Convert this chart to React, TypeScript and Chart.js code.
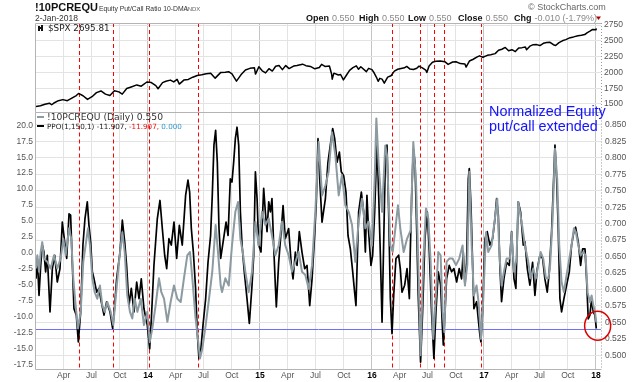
import React, { useEffect, useRef } from "react";
import { Chart, registerables } from "chart.js";
Chart.register(...registerables);

// ---------------- data (x = decimal year) ----------------
const spxDates = [2013.0,2013.04,2013.08,2013.12,2013.14,2013.16,2013.2,2013.24,2013.28,2013.32,2013.36,2013.38,2013.42,2013.46,2013.5,2013.54,2013.58,2013.62,2013.66,2013.7,2013.74,2013.77,2013.81,2013.85,2013.9,2013.94,2013.99,
  2014.03,2014.07,2014.09,2014.13,2014.16,2014.2,2014.23,2014.26,2014.28,2014.32,2014.36,2014.4,2014.44,2014.48,2014.52,2014.56,2014.6,2014.65,2014.69,2014.72,2014.75,2014.79,2014.83,2014.87,2014.91,2014.95,2014.96,2014.99,
  2015.02,2015.05,2015.08,2015.11,2015.14,2015.17,2015.2,2015.23,2015.26,2015.3,2015.33,2015.38,2015.41,2015.45,2015.49,2015.53,2015.55,2015.58,2015.62,2015.64,2015.645,2015.66,2015.7,2015.72,2015.745,2015.77,2015.8,2015.83,2015.86,2015.88,2015.9,2015.95,2015.97,
  2016.0,2016.02,2016.04,2016.055,2016.07,2016.09,2016.11,2016.14,2016.17,2016.2,2016.23,2016.26,2016.29,2016.31,2016.34,2016.37,2016.4,2016.42,2016.45,2016.48,2016.49,2016.51,2016.54,2016.57,2016.61,2016.65,2016.68,2016.72,2016.75,2016.79,2016.83,2016.84,2016.87,2016.9,2016.94,2016.96,2016.99,
  2017.03,2017.06,2017.1,2017.13,2017.16,2017.19,2017.22,2017.25,2017.28,2017.31,2017.34,2017.37,2017.38,2017.41,2017.44,2017.47,2017.5,2017.53,2017.56,2017.59,2017.62,2017.64,2017.67,2017.7,2017.73,2017.77,2017.8,2017.84,2017.87,2017.9,2017.92,2017.95,2017.97,2018.0,2018.003];
const spxValues = [1462,1472,1495,1513,1488,1515,1552,1569,1552,1593,1633,1667,1631,1573,1615,1680,1706,1656,1634,1710,1692,1656,1745,1770,1802,1782,1848,
  1839,1790,1742,1838,1859,1878,1849,1890,1815,1878,1889,1924,1951,1962,1977,1988,1909,2000,2003,2011,1977,1862,1961,2039,2064,2075,1973,2090,
  2025,1992,2058,2021,2097,2110,2044,2108,2060,2100,2110,2130,2107,2095,2057,2077,2128,2094,2102,1970,1893,1988,1958,1967,1881,1951,2033,2075,2103,2050,2089,2012,2064,
  2044,1990,1922,1859,1906,1893,1829,1926,1948,2020,2050,2063,2073,2095,2052,2047,2065,2099,2071,2037,2000,2103,2162,2175,2182,2170,2127,2164,2168,2139,2133,2085,2180,2204,2246,2262,2239,
  2270,2280,2297,2350,2367,2395,2344,2359,2329,2388,2392,2402,2357,2415,2439,2440,2425,2460,2474,2476,2438,2426,2472,2500,2519,2550,2562,2580,2587,2599,2627,2656,2680,2674,2696];

const ppoDates = [2013.0,2013.012,2013.027,2013.042,2013.056,2013.071,2013.086,2013.101,2013.125,2013.146,2013.167,2013.19,2013.214,2013.235,2013.256,2013.274,2013.295,2013.309,2013.324,2013.339,2013.36,2013.378,2013.399,2013.419,2013.437,2013.458,2013.473,2013.488,2013.503,2013.518,2013.542,2013.562,2013.583,2013.607,2013.631,2013.661,2013.684,2013.696,2013.72,2013.75,2013.771,2013.792,2013.809,2013.83,2013.851,2013.875,2013.899,2013.92,2013.94,2013.964,2013.994,
  2014.015,2014.03,2014.053,2014.083,2014.107,2014.128,2014.149,2014.167,2014.187,2014.208,2014.232,2014.256,2014.28,2014.306,2014.336,2014.357,2014.372,2014.387,2014.405,2014.425,2014.44,2014.455,2014.47,2014.491,2014.515,2014.536,2014.559,2014.574,2014.589,2014.604,2014.619,2014.634,2014.649,
  2014.697,2014.715,2014.735,2014.75,2014.765,2014.78,2014.795,2014.81,2014.825,2014.84,2014.86,2014.884,2014.905,2014.929,2014.944,2014.959,2014.974,2014.988,
  2015.009,2015.033,2015.048,2015.063,2015.078,2015.093,2015.107,2015.122,2015.137,2015.146,2015.167,2015.191,2015.206,2015.226,2015.256,2015.28,2015.295,2015.316,2015.331,2015.351,2015.375,2015.399,2015.42,2015.444,2015.465,2015.488,2015.503,2015.518,2015.533,2015.554,2015.584,2015.607,2015.628,2015.649,2015.667,2015.688,2015.709,2015.726,2015.747,2015.768,2015.786,2015.807,2015.828,2015.845,2015.857,2015.881,2015.905,2015.926,2015.941,2015.955,2015.97,2015.991,
  2016.006,2016.024,2016.045,2016.06,2016.075,2016.09,2016.104,2016.119,2016.134,2016.149,2016.164,2016.179,2016.194,2016.214,2016.238,2016.253,2016.268,2016.292,2016.313,2016.334,2016.342,2016.354,2016.369,2016.384,2016.399,2016.413,2016.434,2016.452,2016.473,2016.494,2016.512,2016.532,2016.553,2016.571,2016.592,2016.613,2016.628,2016.637,2016.652,2016.666,2016.69,2016.711,2016.732,2016.756,2016.779,2016.8,2016.815,2016.83,2016.845,2016.86,2016.869,2016.884,2016.899,2016.91,2016.934,2016.949,2016.964,2016.973,2016.988,
  2017.009,2017.029,2017.053,2017.077,2017.098,2017.113,2017.128,2017.143,2017.157,2017.178,2017.202,2017.226,2017.247,2017.268,2017.285,2017.306,2017.327,2017.351,2017.366,2017.387,2017.41,2017.434,2017.455,2017.476,2017.5,2017.524,2017.544,2017.565,2017.583,2017.604,2017.619,2017.634,2017.649,2017.663,2017.678,2017.693,2017.714,2017.738,2017.762,2017.782,2017.803,2017.818,2017.842,2017.863,2017.881,2017.902,2017.916,2017.931,2017.946,2017.961,2017.976,2017.991,2018.003];
const ppoValues = [-4.1,-0.9,-6.7,-2.0,1.2,0.1,-3.0,-0.4,-9.3,-2.5,-0.4,-4.6,-2.5,4.8,1.7,-0.9,6.1,5.9,-1.5,-8.8,-9.8,-14.0,-9.3,1.2,5.3,8.0,4.3,1.7,-3.0,-4.1,-6.2,-5.6,-7.7,-9.8,-7.7,-9.3,-11.9,-9.8,-4.1,0.1,5.1,1.7,-2.0,-8.3,-5.6,-9.3,-4.6,-7.2,-4.1,-8.8,-11.4,
  -15.1,-10.4,-2.0,5.3,8.2,3.8,-0.4,-2.5,2.2,1.2,4.8,-0.9,4.3,1.2,9.0,11.4,9.5,3.8,0.1,-5.6,-12.5,-16.6,-15.6,-11.4,-7.2,-1.5,2.7,9.0,16.9,19.2,14.2,3.8,-0.9,
  4.8,2.7,11.6,11.1,14.2,17.9,19.7,16.9,6.4,1.2,-3.0,-7.2,-11.1,-5.1,-0.4,12.7,8.5,1.2,
  0.1,10.1,6.4,3.3,8.0,6.4,8.5,1.2,-5.1,-8.5,-1.5,3.8,7.4,2.2,3.8,-2.0,-4.1,0.1,-2.0,3.3,0.1,-2.5,-2.0,-8.3,-4.1,2.7,8.0,17.9,11.6,4.8,8.5,14.2,16.9,19.5,17.9,14.2,15.8,12.7,12.1,9.5,2.7,0.6,-3.0,-6.2,-8.3,6.4,9.5,6.4,0.1,9.0,3.3,-2.0,
  -0.4,6.4,17.4,9.0,-0.4,-10.9,1.2,14.2,16.9,6.4,-7.2,-12.7,-6.7,-0.9,-0.4,-2.5,-6.2,-5.1,-2.5,-7.2,0.1,8.5,16.3,14.2,3.8,-6.7,-17.2,-9.3,2.2,6.4,0.1,-9.3,-16.6,-9.3,-3.0,-5.1,-11.4,-14.5,-9.3,-4.1,-2.0,-3.0,-2.5,-4.6,-2.5,-4.1,0.1,-5.1,-1.5,11.6,13.2,7.4,-2.0,-8.8,-7.7,-10.4,-13.0,-14.0,-8.8,
  2.2,3.3,1.2,2.2,5.3,8.5,5.9,-2.5,-7.7,-4.1,-1.5,-2.0,3.3,-4.1,-5.6,8.0,6.4,1.2,1.7,-2.5,-5.1,-1.5,-6.7,-2.5,-0.4,-0.9,-4.1,-6.2,-3.0,3.3,10.1,16.9,11.6,3.8,-7.2,-9.3,-7.2,-5.1,-3.0,1.2,3.3,4.0,1.7,-2.0,0.6,0.6,-4.1,-10.4,-9.8,-7.2,-9.3,-9.8,-11.907];

const pcrDates = [2013.0,2013.012,2013.027,2013.042,2013.056,2013.071,2013.101,2013.131,2013.161,2013.19,2013.22,2013.244,2013.265,2013.295,2013.315,2013.333,2013.354,2013.375,2013.399,2013.422,2013.443,2013.464,2013.482,2013.503,2013.524,2013.547,2013.571,2013.592,2013.613,2013.637,2013.667,2013.69,2013.711,2013.741,2013.771,2013.792,2013.815,2013.839,2013.86,2013.881,2013.905,2013.935,2013.964,2013.994,
  2014.015,2014.039,2014.068,2014.098,2014.119,2014.143,2014.173,2014.202,2014.232,2014.262,2014.292,2014.321,2014.351,2014.375,2014.396,2014.425,2014.446,2014.464,2014.485,2014.515,2014.545,2014.574,2014.604,2014.625,2014.649,2014.661,2014.691,2014.721,2014.75,2014.78,2014.804,2014.825,2014.846,2014.869,2014.899,2014.929,2014.959,2014.988,
  2015.018,2015.048,2015.078,2015.107,2015.137,2015.167,2015.197,2015.226,2015.256,2015.286,2015.316,2015.346,2015.375,2015.405,2015.435,2015.465,2015.494,2015.524,2015.554,2015.584,2015.613,2015.643,2015.673,2015.703,2015.732,2015.762,2015.792,2015.822,2015.851,2015.881,2015.911,2015.941,2015.97,
  2016.0,2016.024,2016.039,2016.06,2016.09,2016.119,2016.134,2016.164,2016.185,2016.209,2016.232,2016.253,2016.283,2016.313,2016.345,2016.369,2016.393,2016.413,2016.434,2016.458,2016.482,2016.503,2016.524,2016.547,2016.571,2016.592,2016.613,2016.631,2016.646,2016.666,2016.69,2016.72,2016.75,2016.779,2016.809,2016.83,2016.851,2016.869,2016.89,2016.91,2016.934,2016.952,2016.973,2016.994,
  2017.018,2017.038,2017.068,2017.098,2017.119,2017.137,2017.157,2017.178,2017.202,2017.232,2017.247,2017.268,2017.291,2017.306,2017.336,2017.366,2017.396,2017.416,2017.44,2017.464,2017.485,2017.506,2017.529,2017.553,2017.574,2017.589,2017.613,2017.634,2017.654,2017.672,2017.693,2017.714,2017.738,2017.762,2017.782,2017.803,2017.821,2017.842,2017.863,2017.887,2017.907,2017.925,2017.946,2017.961,2017.976,2017.991,2018.003];
const pcrValues = [0.632,0.652,0.627,0.657,0.672,0.647,0.642,0.632,0.652,0.632,0.647,0.677,0.652,0.693,0.677,0.617,0.576,0.541,0.566,0.642,0.667,0.693,0.667,0.617,0.596,0.586,0.606,0.576,0.566,0.581,0.566,0.546,0.586,0.642,0.687,0.657,0.591,0.566,0.556,0.586,0.566,0.586,0.546,0.566,
  0.52,0.541,0.576,0.617,0.596,0.586,0.551,0.581,0.606,0.586,0.581,0.617,0.652,0.657,0.617,0.556,0.525,0.495,0.51,0.546,0.586,0.627,0.698,0.657,0.606,0.596,0.617,0.606,0.667,0.718,0.733,0.677,0.657,0.627,0.596,0.627,0.703,0.667,
  0.718,0.698,0.708,0.682,0.652,0.667,0.703,0.667,0.652,0.627,0.642,0.657,0.627,0.622,0.601,0.637,0.718,0.824,0.743,0.758,0.779,0.839,0.804,0.743,0.774,0.728,0.718,0.698,0.642,0.703,0.738,0.693,0.703,
  0.667,0.768,0.86,0.789,0.718,0.819,0.804,0.667,0.657,0.693,0.728,0.693,0.657,0.677,0.69,0.824,0.768,0.642,0.5,0.642,0.723,0.708,0.642,0.525,0.591,0.657,0.652,0.566,0.535,0.642,0.647,0.647,0.637,0.647,0.667,0.606,0.637,0.779,0.667,0.591,0.606,0.581,0.525,0.586,
  0.687,0.657,0.667,0.708,0.738,0.657,0.606,0.627,0.647,0.647,0.687,0.627,0.647,0.733,0.703,0.667,0.642,0.617,0.632,0.617,0.637,0.657,0.647,0.617,0.617,0.632,0.708,0.814,0.768,0.667,0.611,0.596,0.622,0.647,0.667,0.693,0.687,0.667,0.652,0.657,0.652,0.596,0.581,0.591,0.576,0.566,0.55];

const signalDates = [2013.384, 2013.688, 2014.009, 2014.446, 2016.179, 2016.429, 2016.554, 2016.643, 2016.973];
const ppoThreshold = -12;
const circleAt = { x: 2018.015, y: -11.46 };

const xTickValues = [2013.247,2013.496,2013.748,2014,2014.247,2014.496,2014.748,2015,2015.247,2015.496,2015.748,2016,2016.247,2016.496,2016.748,2017,2017.247,2017.496,2017.748,2018];
const xTickLabels = ["Apr","Jul","Oct","14","Apr","Jul","Oct","15","Apr","Jul","Oct","16","Apr","Jul","Oct","17","Apr","Jul","Oct","18"];
const spxTicks = [1500, 1750, 2000, 2250, 2500, 2750];
const ppoTicks = [-17.5,-15,-12.5,-10,-7.5,-5,-2.5,0,2.5,5,7.5,10,12.5,15,17.5,20];
const pcrTicks = [0.5,0.525,0.55,0.575,0.6,0.625,0.65,0.675,0.7,0.725,0.75,0.775,0.8,0.825,0.85];

// ---------------- styling ----------------
const X_MIN = 2013.0;
const X_MAX = 2018.045;
const SANS = "'Liberation Sans', Arial, sans-serif";
const VSANS = "'DejaVu Sans', Verdana, sans-serif";
const GRAY_LINE = "#8c9aa1";

const isYear = (v: number) => Math.abs(v - Math.round(v)) < 0.001;
const pts = (xs: number[], ys: number[]) => xs.map((x, i) => ({ x, y: ys[i] }));

const vLinesPlugin = {
  id: "vlines",
  beforeDatasetsDraw(chart: any) {
    const { ctx, chartArea: a, scales } = chart;
    ctx.save();
    ctx.strokeStyle = "#ff0000";
    ctx.lineWidth = 1;
    ctx.setLineDash([4, 3]);
    for (const d of signalDates) {
      const px = Math.round(scales.x.getPixelForValue(d)) + 0.5;
      ctx.beginPath();
      ctx.moveTo(px, a.top);
      ctx.lineTo(px, a.bottom);
      ctx.stroke();
    }
    ctx.restore();
  },
};

const framePlugin = {
  id: "frame",
  afterDraw(chart: any) {
    const { ctx, chartArea: a } = chart;
    ctx.save();
    ctx.strokeStyle = "#b4b4b4";
    ctx.lineWidth = 1;
    ctx.beginPath();
    ctx.moveTo(Math.round(a.right) + 0.5, Math.round(a.top) + 0.5);
    ctx.lineTo(Math.round(a.left) - 0.5, Math.round(a.top) + 0.5);
    ctx.lineTo(Math.round(a.left) - 0.5, Math.round(a.bottom) + 0.5);
    ctx.lineTo(Math.round(a.right) + 0.5, Math.round(a.bottom) + 0.5);
    ctx.stroke();
    ctx.setLineDash([1, 2]);
    ctx.strokeStyle = "#999";
    ctx.beginPath();
    ctx.moveTo(Math.round(a.right) + 0.5, a.top);
    ctx.lineTo(Math.round(a.right) + 0.5, a.bottom);
    ctx.stroke();
    ctx.restore();
  },
};

function runs(ctx: CanvasRenderingContext2D, x: number, y: number, parts: [string, string, string][]) {
  let cx = x;
  for (const [t, font, color] of parts) {
    ctx.font = font;
    ctx.fillStyle = color;
    ctx.fillText(t, cx, y);
    cx += ctx.measureText(t).width;
  }
}

const headerPlugin = {
  id: "header",
  afterDraw(chart: any) {
    const ctx: CanvasRenderingContext2D = chart.ctx;
    ctx.save();
    ctx.textAlign = "left";
    ctx.textBaseline = "alphabetic";
    ctx.font = `bold 11px ${SANS}`;
    ctx.fillStyle = "#111";
    ctx.fillText("!10PCREQU", 35, 10.5);
    ctx.font = `6.8px ${SANS}`;
    ctx.fillStyle = "#333";
    ctx.fillText("Equity Put/Call Ratio 10-DMA", 99, 10.5);
    ctx.font = `6px ${SANS}`;
    ctx.fillStyle = "#666";
    ctx.fillText("INDX", 186, 10.5);
    ctx.font = `8.5px ${SANS}`;
    ctx.fillStyle = "#333";
    ctx.fillText("2-Jan-2018", 35, 20.7);
    ctx.font = `9px ${SANS}`;
    ctx.fillStyle = "#666";
    ctx.fillText("\u00A9 StockCharts.com", 528, 10);
    const items: [string, string, number][] = [
      ["Open", "0.550", 306], ["High", "0.550", 359], ["Low", "0.550", 408],
      ["Close", "0.550", 458], ["Chg", "-0.010 (-1.79%)", 514],
    ];
    for (const [lab, val, x] of items) {
      ctx.font = `bold 9px ${SANS}`;
      ctx.fillStyle = "#111";
      ctx.fillText(lab, x, 20.7);
      const w = ctx.measureText(lab).width;
      ctx.font = `9px ${SANS}`;
      ctx.fillStyle = "#888";
      ctx.fillText(val, x + w + 3, 20.7);
    }
    ctx.fillStyle = "#b00000";
    ctx.beginPath();
    ctx.moveTo(596, 16.5);
    ctx.lineTo(601, 16.5);
    ctx.lineTo(598.5, 20);
    ctx.closePath();
    ctx.fill();
    // SPX legend
    ctx.fillStyle = "#111";
    ctx.fillRect(38, 26, 2, 5);
    ctx.fillRect(41, 25, 2, 6);
    ctx.fillRect(40, 27, 1, 2);
    ctx.font = `8.8px ${VSANS}`;
    ctx.fillStyle = "#222";
    ctx.fillText("$SPX 2695.81", 48, 31);
    ctx.restore();
  },
};

const bottomTextPlugin = {
  id: "bottomText",
  beforeDatasetsDraw(chart: any) {
    const { ctx, chartArea: a, scales } = chart;
    const y = Math.round(scales.ppo.getPixelForValue(ppoThreshold)) + 0.5;
    ctx.save();
    ctx.strokeStyle = "#7070ff";
    ctx.lineWidth = 1;
    ctx.beginPath();
    ctx.moveTo(a.left, y);
    ctx.lineTo(a.right, y);
    ctx.stroke();
    ctx.restore();
  },
  afterDraw(chart: any) {
    const { scales } = chart;
    const ctx: CanvasRenderingContext2D = chart.ctx;
    ctx.save();
    ctx.textAlign = "left";
    ctx.textBaseline = "alphabetic";
    ctx.fillStyle = GRAY_LINE;
    ctx.fillRect(37, 116, 7, 2);
    ctx.fillStyle = "#000";
    ctx.fillRect(37, 125, 7, 2);
    runs(ctx, 47, 120, [["!10PCREQU (Daily) 0.550", `9.2px ${VSANS}`, "#333"]]);
    runs(ctx, 47, 129, [
      ["PPO(1,150,1) -11.907, ", `7.2px ${VSANS}`, "#222"],
      ["-11.907, ", `7.2px ${VSANS}`, "#ee1111"],
      ["0.000", `7.2px ${VSANS}`, "#3399cc"],
    ]);
    ctx.font = `14.4px ${SANS}`;
    ctx.fillStyle = "#1414ff";
    ctx.fillText("Normalized Equity", 489, 115.5);
    ctx.fillText("put/call extended", 489, 131);
    const cx = scales.x.getPixelForValue(circleAt.x);
    const cy = scales.ppo.getPixelForValue(circleAt.y);
    ctx.strokeStyle = "#e00000";
    ctx.lineWidth = 1.5;
    ctx.beginPath();
    ctx.ellipse(cx, cy, 13, 14.5, 0, 0, Math.PI * 2);
    ctx.stroke();
    ctx.restore();
  },
};

const xGridColor = (c: any) => (c.tick && isYear(c.tick.value) ? "#c4c4c4" : "#e3e3e3");
const setTicks = (vals: number[]) => (s: any) => { s.ticks = vals.map((v) => ({ value: v })); };

export default function App() {
  const topRef = useRef<HTMLCanvasElement>(null);
  const botRef = useRef<HTMLCanvasElement>(null);

  useEffect(() => {
    document.body.style.margin = "0";
    Chart.defaults.font.family = SANS;

    const top = new Chart(topRef.current as HTMLCanvasElement, {
      type: "line",
      data: {
        datasets: [{
          data: pts(spxDates, spxValues), borderColor: "#000", borderWidth: 1.5,
          pointRadius: 0, yAxisID: "spx", borderJoinStyle: "round",
        } as any],
      },
      options: {
        animation: false, responsive: false, events: [],
        layout: { padding: { left: 36, top: 23, right: 0, bottom: 382 - 111.5 } },
        plugins: { legend: { display: false }, tooltip: { enabled: false } },
        scales: {
          x: {
            type: "linear", min: X_MIN, max: X_MAX,
            afterBuildTicks: setTicks(xTickValues),
            ticks: { display: false },
            grid: { drawTicks: false, color: xGridColor },
            border: { display: false },
            afterFit: (s: any) => { s.height = 0; },
          },
          spx: {
            type: "linear", position: "right", min: 1381, max: 2782,
            afterBuildTicks: setTicks(spxTicks),
            ticks: { padding: 3, color: "#555", font: { size: 8.5, family: SANS }, callback: (v: any) => String(v) },
            grid: { drawTicks: false, color: "#e3e3e3" },
            border: { display: false },
            afterFit: (s: any) => { s.width = 39; },
          },
        },
      } as any,
      plugins: [vLinesPlugin, framePlugin, headerPlugin],
    });

    const bot = new Chart(botRef.current as HTMLCanvasElement, {
      type: "line",
      data: {
        datasets: [
          { label: "pcr", data: pts(pcrDates, pcrValues), borderColor: GRAY_LINE, borderWidth: 2,
            pointRadius: 0, yAxisID: "pcr", order: 0, borderJoinStyle: "round" } as any,
          { label: "ppo", data: pts(ppoDates, ppoValues), borderColor: "#000", borderWidth: 1.7,
            pointRadius: 0, yAxisID: "ppo", order: 1, borderJoinStyle: "round" } as any,
        ],
      },
      options: {
        animation: false, responsive: false, events: [],
        layout: { padding: { left: 0, top: 111.5, right: 0, bottom: 0 } },
        plugins: { legend: { display: false }, tooltip: { enabled: false } },
        scales: {
          x: {
            type: "linear", min: X_MIN, max: X_MAX,
            afterBuildTicks: setTicks(xTickValues),
            ticks: {
              padding: 2, maxRotation: 0, autoSkip: false,
              callback: (_v: any, i: number) => xTickLabels[i],
              color: (c: any) => (c.tick && isYear(c.tick.value) ? "#000" : "#555"),
              font: (c: any) => ({ size: 8.5, family: SANS, weight: c.tick && isYear(c.tick.value) ? "bold" : "normal" }),
            },
            grid: { drawTicks: false, color: xGridColor },
            border: { display: false },
            afterFit: (s: any) => { s.height = 13; },
          },
          ppo: {
            type: "linear", position: "left", min: -18.26, max: 22.17,
            afterBuildTicks: setTicks(ppoTicks),
            ticks: { padding: 3, color: "#555", font: { size: 8.5, family: SANS }, callback: (v: any) => Number(v).toFixed(1) },
            grid: { display: false, drawTicks: false },
            border: { display: false },
            afterFit: (s: any) => { s.width = 36; },
          },
          pcr: {
            type: "linear", position: "right", min: 0.4792, max: 0.8705,
            afterBuildTicks: setTicks(pcrTicks),
            ticks: { padding: 4, color: "#555", font: { size: 8.5, family: SANS }, callback: (v: any) => Number(v).toFixed(3) },
            grid: { drawTicks: false, color: "#e3e3e3" },
            border: { display: false },
            afterFit: (s: any) => { s.width = 39; },
          },
        },
      } as any,
      plugins: [vLinesPlugin, framePlugin, bottomTextPlugin],
    });

    return () => { top.destroy(); bot.destroy(); };
  }, []);

  return (
    <div style={{ position: "relative", width: 640, height: 382, background: "#fff" }}>
      <canvas ref={topRef} width={640} height={382} style={{ position: "absolute", left: 0, top: 0 }} />
      <canvas ref={botRef} width={640} height={382} style={{ position: "absolute", left: 0, top: 0 }} />
    </div>
  );
}
